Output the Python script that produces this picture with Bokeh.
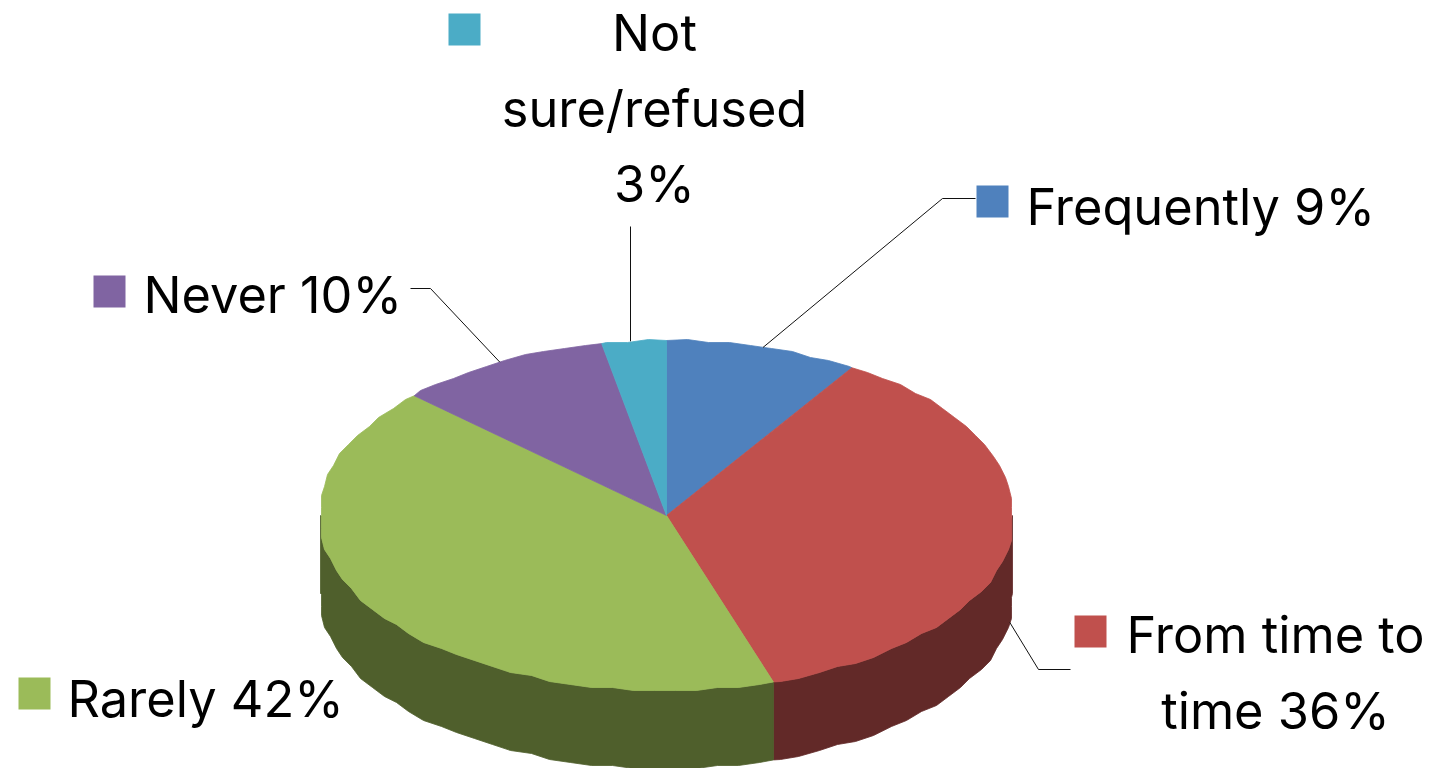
import numpy as np
from bokeh.plotting import figure
from bokeh.models import ColumnDataSource
from bokeh.core.properties import value
from bokeh.embed import file_html
from bokeh.resources import INLINE

categories = ["Frequently", "From time to time", "Rarely", "Never", "Not sure/refused"]
values = [9, 36, 42, 10, 3]
colors = ["#4F81BD", "#C0504D", "#9BBB59", "#8064A2", "#4BACC6"]
side_colors = ["#2A4565", "#622928", "#4F5F2C", "#443454", "#265C6A"]

# layout of the tilted pie, in page pixels
CX, CY, RX, RY, DEPTH = 666, 515, 346, 175, 78
INFLATE = 1.006
GRID = 3
STEP = 3.5
LEADER_DROP = 85

label_lines = [["Frequently 9%"], ["From time to", "time 36%"], ["Rarely 42%"], ["Never 10%"],
               ["Not", "sure/refused", "3%"]]
label_xy = [(1026, 206), (1275, 634), (67, 698), (143, 294), (654, 32)]
label_align = ["left", "center", "left", "left", "center"]
swatch_xy = [(992, 201), (1090, 631), (34, 693), (109, 291), (464, 29)]
leader_knee = [[(942, 198), (975, 198)], [(1038, 669), (1070, 669)], None,
               [(430, 288), (410, 288)], [(630, 226)]]
LINE_GAP = 75.5
FONT = "Inter"
FONT_PX = "50.5px"


def rim(t_deg, drop=0.0):
    t = np.radians(t_deg)
    return CX + RX * np.sin(t), CY - RY * np.cos(t) + drop


def jag(a, b, drop=0.0):
    inner = np.arange(np.ceil(a / STEP), np.floor(b / STEP) + 1) * STEP
    ts = [a] + [t for t in inner if a < t < b] + [b]
    xs, ys = [], []
    for t in ts:
        x, y = rim(t)
        x = np.clip(CX + (x - CX) * INFLATE, CX - RX, CX + RX)
        xs.append(round(x / GRID) * GRID)
        ys.append(round(y / GRID) * GRID + drop)
    xs[0], ys[0] = rim(a, drop)
    xs[-1], ys[-1] = rim(b, drop)
    return xs, ys


total = sum(values)
edges = np.cumsum([0] + values) / total * 360.0

p = figure(width=1437, height=768, x_range=(0, 1437), y_range=(768, 0),
           toolbar_location=None, output_backend="svg", min_border=0,
           outline_line_color=None, background_fill_color="white")
p.axis.visible = False
p.grid.visible = False

# side walls: only the front half of the disc is visible
sx, sy, sc = [], [], []
for i in range(len(values)):
    a, b = max(edges[i], 90.0), min(edges[i + 1], 270.0)
    if a >= b:
        continue
    tx, ty = jag(a, b)
    bx, by = jag(a, b, DEPTH)
    sx.append(tx + bx[::-1])
    sy.append(ty + by[::-1])
    sc.append(side_colors[i])
p.patches("x", "y", source=ColumnDataSource(dict(x=sx, y=sy, c=sc)),
          fill_color="c", line_color="c", line_width=0.8)

# top face
fx, fy = [], []
for i in range(len(values)):
    tx, ty = jag(edges[i], edges[i + 1])
    fx.append([CX] + tx)
    fy.append([CY] + ty)
p.patches("x", "y", source=ColumnDataSource(dict(x=fx, y=fy, c=colors)),
          fill_color="c", line_color="c", line_width=0.8)

# leader lines from the middle of each slice
for i, knee in enumerate(leader_knee):
    if knee is None:
        continue
    mid = (edges[i] + edges[i + 1]) / 2
    x0, y0 = rim(mid, LEADER_DROP if 90 < mid < 270 else 0)
    if len(knee) == 1:
        x0 = knee[0][0]
    p.line([x0] + [k[0] for k in knee], [y0] + [k[1] for k in knee],
           line_color="#111111", line_width=1)

# swatches and labels
p.scatter([s[0] for s in swatch_xy], [s[1] for s in swatch_xy], marker="square", size=32,
          fill_color=colors, line_color=None)
for lines, (x, y), al in zip(label_lines, label_xy, label_align):
    for k, line in enumerate(lines):
        p.text([x], [y + k * LINE_GAP], text=[line], text_font=value(FONT),
               text_font_size=value(FONT_PX), text_align=al, text_baseline="middle",
               text_color="black")

open("out.html", "w").write(file_html(p, INLINE))
